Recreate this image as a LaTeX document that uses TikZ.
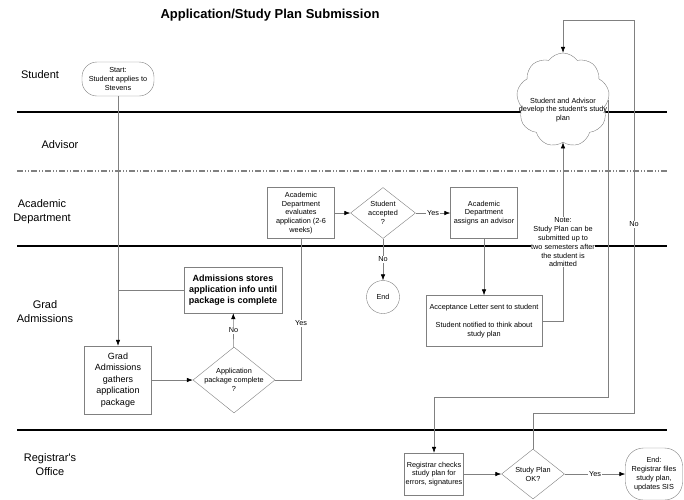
\documentclass[tikz,border=0pt]{standalone}
\usepackage{fontspec}
\setmainfont{Liberation Sans}
\usetikzlibrary{shapes.geometric,shapes.symbols,arrows.meta}
\definecolor{linegray}{gray}{0.5}
\tikzset{
  procbox/.style={draw=linegray, fill=white, align=center, inner sep=1pt,
    font=\fontsize{7.3}{8.8}\selectfont},
  termbox/.style={procbox, rounded corners=15pt},
  decision/.style={diamond, draw=linegray, fill=white, inner sep=0pt},
  dtext/.style={align=center, font=\fontsize{7.3}{8.8}\selectfont},
  flow/.style={draw=linegray, line width=0.6pt, -{Latex[length=6pt,width=4.5pt,color=black]}},
  link/.style={draw=linegray, line width=0.6pt},
  lbl/.style={fill=white, inner sep=1pt, align=center, font=\fontsize{7.3}{8.8}\selectfont},
  lanename/.style={align=center, font=\fontsize{11}{14}\selectfont},
  laneline/.style={line width=1.6pt, black}
}
\begin{document}
\begin{tikzpicture}[x=1pt, y=-1pt]
  \useasboundingbox (0,0) rectangle (684,499);

  % Title
  \node[font=\bfseries\fontsize{13}{15}\selectfont] (title) at (270, 15) {Application/Study Plan Submission};

  % Swim lanes
  \draw[laneline] (17, 112) -- (667, 112);
  \draw[line width=1.2pt, gray, dash pattern=on 6pt off 2pt on 1pt off 2pt on 1pt off 2pt] (17, 171) -- (667, 171);
  \draw[laneline] (17, 246) -- (667, 246);
  \draw[laneline] (17, 430) -- (667, 430);

  \node[lanename] (lstudent) at (40, 75) {Student};
  \node[lanename] (ladvisor) at (60, 145) {Advisor};
  \node[lanename] (lacad) at (42, 212) {Academic\\Department};
  \node[lanename] (lgrad) at (45, 312) {Grad\\Admissions};
  \node[lanename] (lreg) at (50, 465) {Registrar\textquotesingle s\\Office};

  % Student / Grad Admissions
  \node[termbox, minimum width=72pt, minimum height=34pt] (start) at (118, 79) {Start:\\Student applies to\\Stevens};
  \node[procbox, font=\fontsize{9}{11.5}\selectfont, minimum width=67pt, minimum height=68pt] (gather) at (118, 380) {Grad\\Admissions\\gathers\\application\\package};
  \node[procbox, font=\bfseries\fontsize{9}{11}\selectfont, minimum width=98pt, minimum height=46pt] (store) at (233, 290) {Admissions stores\\application info until\\package is complete};
  \node[decision, minimum width=82pt, minimum height=66pt,
    label={[dtext]center:Application\\package complete\\?}] (pkgq) at (234, 380) {};

  % Academic Department
  \node[procbox, minimum width=67pt, minimum height=51pt] (eval) at (301, 213) {Academic\\Department\\evaluates\\application (2-6\\weeks)};
  \node[decision, minimum width=65pt, minimum height=51pt,
    label={[dtext]center:Student\\accepted\\?}] (accq) at (383, 213) {};
  \node[procbox, minimum width=67pt, minimum height=51pt] (assign) at (484, 213) {Academic\\Department\\assigns an advisor};
  \node[procbox, circle, minimum size=33pt] (endno) at (383, 297) {End};
  \node[procbox, minimum width=116pt, minimum height=51pt] (accept) at (484, 321) {Acceptance Letter sent to student\\[8.8pt]Student notified to think about\\study plan};

  % Advisor
  \node[cloud, cloud puffs=9, cloud puff arc=110, aspect=1, draw=linegray, fill=white, inner sep=0pt,
    minimum width=93pt, minimum height=94pt] (cloud) at (563, 100) {};
  \node[dtext] (cloudtxt) at (563, 110) {Student and Advisor\\develop the student\textquotesingle s study\\plan};

  % Registrar's Office
  \node[procbox, minimum width=58pt, minimum height=42pt] (regchk) at (434, 474) {Registrar checks\\study plan for\\errors, signatures};
  \node[decision, minimum width=63pt, minimum height=50pt,
    label={[dtext]center:Study Plan\\OK?}] (planq) at (533, 474) {};
  \node[termbox, rounded corners=18pt, minimum width=57pt, minimum height=52pt] (endok) at (654, 474) {End:\\Registrar files\\study plan,\\updates SIS};

  % Connectors
  \draw[flow] (start) -- (gather);
  \draw[link] (store.west) -- (store.west -| start.south);
  \draw[flow] (gather) -- (pkgq);
  \draw[flow] (pkgq) -- node[lbl]{No} (store);
  \draw[link] (pkgq.east) -| node[lbl, pos=0.7]{Yes} (eval.south);
  \draw[flow] (eval) -- (accq);
  \draw[flow] (accq) -- node[lbl]{Yes} (assign);
  \draw[flow] (accq) -- node[lbl]{No} (endno);
  \draw[flow] (assign) -- (accept);
  \draw[flow] (accept.east) -| node[lbl, pos=0.72, inner sep=0.5pt]{Note:\\Study Plan can be\\submitted up to\\two semesters after\\the student is\\admitted} (cloud.south);
  \draw[flow] (cloud.east) -- (cloud.east |- 0, 397) -| (regchk.north);
  \draw[flow] (regchk) -- (planq);
  \draw[flow] (planq) -- node[lbl]{Yes} (endok);
  \draw[flow] (planq.north) |- (634, 413) -- node[lbl, pos=0.48]{No} (634, 20) -| (cloud.north);
\end{tikzpicture}
\end{document}
